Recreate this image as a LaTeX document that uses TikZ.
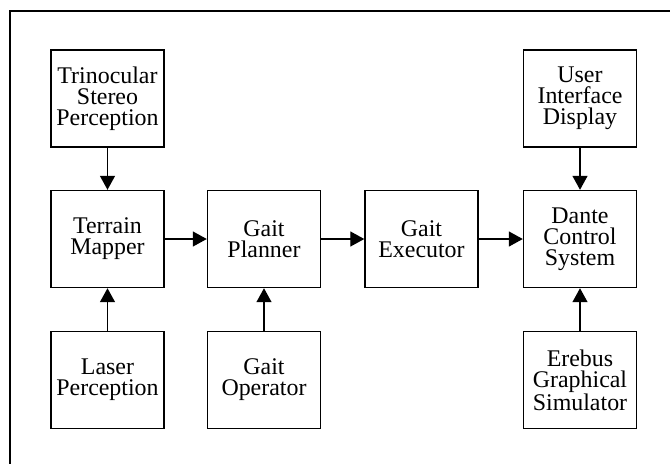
\documentclass[tikz,border=0pt]{standalone}
\usepackage{fontspec}
\setmainfont{Liberation Serif}
\usepackage{tikz}
\usetikzlibrary{arrows.meta,positioning}
\definecolor{lineColor}{RGB}{0,0,0}

\begin{document}
\begin{tikzpicture}[
  x=0.025cm, y=-0.025cm,
  font=\fontsize{17}{15}\selectfont,
  block/.style={draw=lineColor, fill=white, line width=1pt, align=center, minimum width=2.825cm, minimum height=2.425cm, inner sep=2pt},
  arrow/.style={-{Triangle[length=0.35cm, width=0.375cm]}, line width=1pt, draw=lineColor}
]
\useasboundingbox (0,0) rectangle (670,463);
\clip (0,0) rectangle (670,463);

% Frame
\draw[lineColor, line width=1pt] (10,480) -- (10,11) -- (690,11);

% Left column
\node[block] (trin) at (107.5, 98.5) {Trinocular\\Stereo\\Perception};
\node[block] (mapper) at (107.5, 239) {Terrain\\Mapper};
\node[block] (laser) at (107.5, 380) {Laser\\Perception};

% Gait
\node[block] (planner) at (264, 239) {Gait\\Planner};
\node[block] (operator) at (264, 380) {Gait\\Operator};
\node[block] (executor) at (421.5, 239) {Gait\\Executor};

% Right column
\node[block] (ui) at (580, 98.5) {User\\Interface\\Display};
\node[block] (dante) at (580, 239) {Dante\\Control\\System};
\node[block] (erebus) at (580, 380) {Erebus\\Graphical\\Simulator};

\draw[arrow] (trin) -- (mapper);
\draw[arrow] (laser) -- (mapper);
\draw[arrow] (mapper) -- (planner);
\draw[arrow] (operator) -- (planner);
\draw[arrow] (planner) -- (executor);
\draw[arrow] (executor) -- (dante);
\draw[arrow] (ui) -- (dante);
\draw[arrow] (erebus) -- (dante);

\end{tikzpicture}
\end{document}
